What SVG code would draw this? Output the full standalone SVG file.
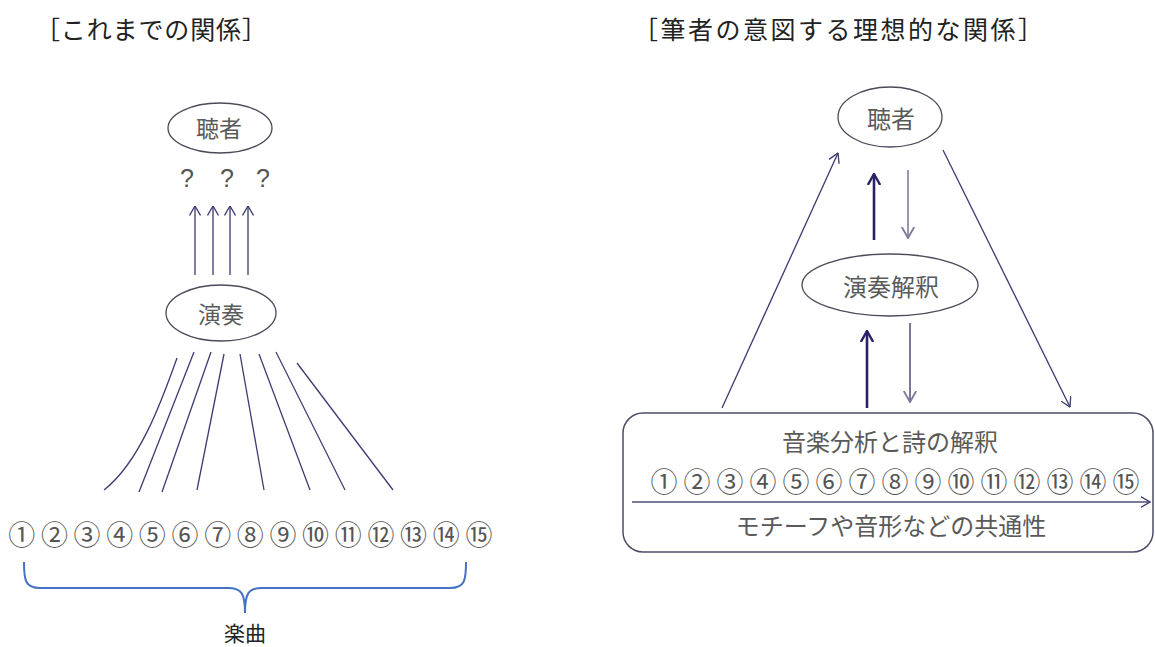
<svg xmlns="http://www.w3.org/2000/svg" width="1155" height="647" viewBox="0 0 1155 647">
<style>
.title{font-family:"Noto Sans CJK JP","Liberation Serif",serif;font-size:25px;fill:#222;}
.lbl{font-family:"Noto Sans CJK JP",sans-serif;font-size:23px;fill:#5a5a5a;text-anchor:middle;dominant-baseline:central;}
.num{font-family:"Noto Sans CJK JP",sans-serif;font-size:27px;fill:#555;text-anchor:middle;dominant-baseline:central;}
.q{font-family:"Liberation Sans",sans-serif;font-size:25px;fill:#555;text-anchor:middle;dominant-baseline:central;}
.node{fill:#fff;stroke:#4a4a5a;stroke-width:1.3;}
.thin{fill:none;stroke:#3c3a72;stroke-width:1.3;}
.thick{fill:none;stroke:#2a2266;stroke-width:2.6;}
.light{fill:none;stroke:#7d7699;stroke-width:1.8;}
</style>
<defs>
<marker id="aThin" viewBox="0 0 10 12" refX="9.5" refY="6" markerWidth="10" markerHeight="12" markerUnits="userSpaceOnUse" orient="auto">
<path d="M0,0.5 L9.5,6 L0,11.5" fill="none" stroke="#3c3a72" stroke-width="1.3"/>
</marker>
<marker id="aThick" viewBox="0 0 12 14" refX="11" refY="7" markerWidth="12" markerHeight="14" markerUnits="userSpaceOnUse" orient="auto">
<path d="M0,0.8 L11,7 L0,13.2" fill="none" stroke="#2a2266" stroke-width="2.4"/>
</marker>
<marker id="aLight" viewBox="0 0 12 14" refX="11" refY="7" markerWidth="12" markerHeight="14" markerUnits="userSpaceOnUse" orient="auto">
<path d="M0,0.8 L11,7 L0,13.2" fill="none" stroke="#7d7699" stroke-width="1.8"/>
</marker>
</defs>
<rect width="1155" height="647" fill="#fff"/>

<g id="titles">
<text class="title" x="35" y="39" textLength="232">［これまでの関係］</text>
<text class="title" x="633" y="39" textLength="410">［筆者の意図する理想的な関係］</text>
</g>

<g id="connectors">
<!-- left -->
<line class="thin" x1="195" y1="275" x2="195" y2="206" marker-end="url(#aThin)"/>
<line class="thin" x1="213" y1="275" x2="213" y2="206" marker-end="url(#aThin)"/>
<line class="thin" x1="230" y1="275" x2="230" y2="206" marker-end="url(#aThin)"/>
<line class="thin" x1="248" y1="275" x2="248" y2="206" marker-end="url(#aThin)"/>
<path class="thin" d="M177,358 C162,400 140,462 104,490"/>
<line class="thin" x1="194" y1="352" x2="139" y2="492"/>
<line class="thin" x1="211" y1="352" x2="162" y2="492"/>
<line class="thin" x1="224" y1="354" x2="197" y2="490"/>
<line class="thin" x1="240" y1="354" x2="264" y2="490"/>
<line class="thin" x1="259" y1="354" x2="310" y2="490"/>
<line class="thin" x1="276" y1="352" x2="345" y2="490"/>
<line class="thin" x1="297" y1="363" x2="393" y2="490"/>
<path d="M24,562 C24,580 25,588 40,588 L228,588 C242,588 245,594 245,613 C245,594 248,588 262,588 L450,588 C465,588 466,580 466,562" fill="none" stroke="#4472c4" stroke-width="2"/>
<!-- right -->
<line class="thin" x1="722" y1="408" x2="838" y2="153" marker-end="url(#aThin)"/>
<line class="thin" x1="943" y1="150" x2="1070" y2="407" marker-end="url(#aThin)"/>
<line class="thick" x1="874" y1="240" x2="874" y2="174" marker-end="url(#aThick)"/>
<line class="light" x1="908" y1="170" x2="908" y2="238" marker-end="url(#aLight)" style="stroke-width:1.5"/>
<line class="thick" x1="867" y1="408" x2="867" y2="331" marker-end="url(#aThick)"/>
<line class="light" x1="910" y1="323" x2="910" y2="402" marker-end="url(#aLight)" style="stroke-width:2"/>
</g>

<g id="node-listener-left">
<ellipse class="node" cx="220" cy="128" rx="52" ry="25"/>
<text class="lbl" x="219" y="127">聴者</text>
</g>
<g id="question-marks">
<text class="q" x="187" y="178">?</text>
<text class="q" x="227" y="178">?</text>
<text class="q" x="263" y="178">?</text>
</g>
<g id="node-performance">
<ellipse class="node" cx="221" cy="313" rx="55" ry="28"/>
<text class="lbl" x="221" y="313">演奏</text>
</g>
<g id="numbers-left">
<text class="num" y="533" x="21.7 54.4 87 119.7 152.3 185 217.7 250.3 283 315.6 348.3 381 413.6 446.3 479">①②③④⑤⑥⑦⑧⑨⑩⑪⑫⑬⑭⑮</text>
</g>
<g id="label-piece">
<text x="245" y="632" style="font-family:'Noto Sans CJK JP',serif;font-size:21px;fill:#222;text-anchor:middle;dominant-baseline:central">楽曲</text>
</g>

<g id="node-listener-right">
<ellipse class="node" cx="890" cy="117" rx="52" ry="30"/>
<text class="lbl" x="891" y="117" style="font-size:24px">聴者</text>
</g>
<g id="node-interpretation">
<ellipse class="node" cx="890" cy="285" rx="88" ry="31"/>
<text class="lbl" x="891" y="285" style="font-size:24px">演奏解釈</text>
</g>
<g id="node-analysis">
<rect x="623" y="413" width="530" height="139" rx="20" ry="20" fill="#fff" stroke="#4e4e6a" stroke-width="1.5"/>
<text class="lbl" x="890" y="440" style="font-size:24px">音楽分析と詩の解釈</text>
<text class="num" y="480" x="664 697 730 763 796 829 862 895 928 961 994 1027 1060 1093 1126">①②③④⑤⑥⑦⑧⑨⑩⑪⑫⑬⑭⑮</text>
<line x1="632" y1="502" x2="1150" y2="502" stroke="#4e4e78" stroke-width="1.5" marker-end="url(#aThin)"/>
<text class="lbl" x="891" y="524" style="font-size:24px">モチーフや音形などの共通性</text>
</g>
</svg>
